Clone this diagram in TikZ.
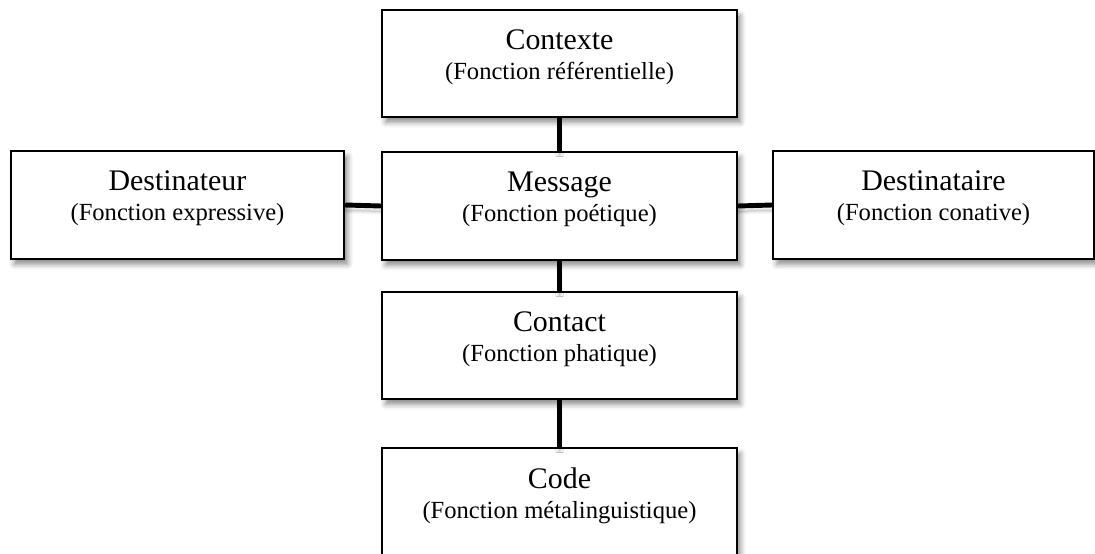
\documentclass[tikz,border=0pt]{standalone}
\usepackage{fontspec}
\setmainfont{Liberation Serif}
\usetikzlibrary{positioning,shadows.blur}

\begin{document}
\begin{tikzpicture}
\tikzstyle{box}=[draw, line width=1.1pt, fill=white, inner sep=0pt,
  blur shadow={shadow xshift=2pt, shadow yshift=-3pt, shadow blur radius=3pt, shadow opacity=45}]
\tikzstyle{lbl}=[align=center, inner sep=0pt, anchor=north, font=\fontsize{14}{17}\selectfont]
\tikzstyle{link}=[line width=2.8pt, blur shadow={shadow xshift=0pt, shadow yshift=-3pt, shadow blur radius=2pt, shadow opacity=35}]
\newcommand{\titre}[1]{{\fontsize{17}{17}\selectfont #1}}
\useasboundingbox (0,0) rectangle (21.9,-11.08);

\node[box, minimum width=7.1cm, minimum height=2.14cm] (ctx) at (11.19,-1.27) {};
\node[box, minimum width=7.1cm, minimum height=2.16cm] (msg) at (11.19,-4.12) {};
\node[box, minimum width=6.67cm, minimum height=2.16cm] (dst) at (3.55,-4.1) {};
\node[box, minimum width=6.42cm, minimum height=2.16cm] (dtr) at (18.67,-4.1) {};
\node[box, minimum width=7.1cm, minimum height=2.14cm] (cnt) at (11.19,-6.91) {};
\node[box, minimum width=7.1cm, minimum height=2.16cm] (cod) at (11.19,-10.04) {};

\node[lbl, below=0.41cm of ctx.north] (ctxt) {\titre{Contexte}\\ (Fonction référentielle)};
\node[lbl, below=0.41cm of msg.north] (msgt) {\titre{Message}\\ (Fonction poétique)};
\node[lbl, below=0.41cm of dst.north] (dstt) {\titre{Destinateur}\\ (Fonction expressive)};
\node[lbl, below=0.41cm of dtr.north] (dtrt) {\titre{Destinataire}\\ (Fonction conative)};
\node[lbl, below=0.41cm of cnt.north] (cntt) {\titre{Contact}\\ (Fonction phatique)};
\node[lbl, below=0.41cm of cod.north] (codt) {\titre{Code}\\ (Fonction métalinguistique)};

\draw[link] (ctx.south) -- (msg.north);
\draw[link] (msg.south) -- (cnt.north);
\draw[link] (cnt.south) -- (cod.north);
\draw[link] (dst.east) -- (msg.west);
\draw[link] (msg.east) -- (dtr.west);
\end{tikzpicture}
\end{document}
